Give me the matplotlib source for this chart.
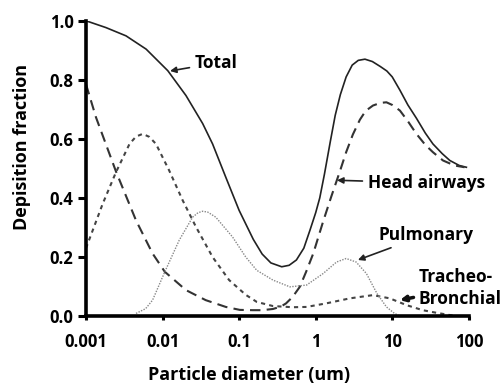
import matplotlib
matplotlib.use("Agg")
import matplotlib.pyplot as plt

plt.rcParams['font.family'] = ['Open Sans', 'DejaVu Sans']
plt.rcParams['font.weight'] = 'bold'

# values (diameter in um, deposition fraction)
total_x = [0.001, 0.00182, 0.00333, 0.0061, 0.0117, 0.0202, 0.0334, 0.045, 0.067, 0.1,
           0.153, 0.2, 0.26, 0.36, 0.45, 0.56, 0.7, 0.84, 1.0, 1.13, 1.3, 1.55, 1.8,
           2.1, 2.5, 3.0, 3.6, 4.4, 5.5, 7.0, 8.5, 10.0, 12.6, 16.0, 20.7, 27.0, 34.0,
           45.0, 56.5, 75.0, 93.0]
total_y = [1.0, 0.977, 0.949, 0.904, 0.831, 0.747, 0.652, 0.583, 0.47, 0.358,
           0.26, 0.21, 0.18, 0.167, 0.172, 0.19, 0.23, 0.29, 0.35, 0.4, 0.48, 0.59, 0.68,
           0.75, 0.81, 0.85, 0.866, 0.87, 0.862, 0.845, 0.83, 0.81, 0.765, 0.715, 0.67, 0.62, 0.583,
           0.55, 0.527, 0.51, 0.504]

head_x = [0.001, 0.00135, 0.00246, 0.0045, 0.0074, 0.0107, 0.0202, 0.0366, 0.067, 0.102,
          0.15, 0.2, 0.276, 0.35, 0.41, 0.5, 0.62, 0.75, 0.93, 1.25, 1.6, 2.07, 2.5, 3.06,
          3.78, 4.5, 5.6, 7.0, 8.4, 10.0, 12.6, 16.0, 20.7, 27.0, 34.0, 46.0, 65.0, 88.0]
head_y = [0.785, 0.673, 0.49, 0.324, 0.212, 0.15, 0.088, 0.054, 0.031, 0.021,
          0.02, 0.02, 0.024, 0.032, 0.043, 0.065, 0.099, 0.15, 0.212, 0.32, 0.405, 0.49, 0.555, 0.615,
          0.665, 0.695, 0.713, 0.722, 0.724, 0.715, 0.696, 0.66, 0.617, 0.58, 0.555, 0.527, 0.51, 0.504]

tb_x = [0.001, 0.00165, 0.00246, 0.0037, 0.0045, 0.0055, 0.0067, 0.0082, 0.0122, 0.0183,
        0.0273, 0.045, 0.074, 0.122, 0.17, 0.276, 0.5, 0.76, 1.37, 2.79, 5.6, 9.3,
        15.4, 25.0, 38.0, 55.0, 70.0]
tb_y = [0.23, 0.38, 0.487, 0.583, 0.608, 0.617, 0.607, 0.583, 0.493, 0.392,
        0.302, 0.2, 0.122, 0.072, 0.048, 0.034, 0.03, 0.031, 0.043, 0.06, 0.071, 0.06,
        0.037, 0.02, 0.011, 0.004, 0.0]

pul_x = [0.0045, 0.006, 0.0074, 0.0107, 0.0165, 0.0247, 0.029, 0.0334, 0.039, 0.0495,
         0.082, 0.122, 0.17, 0.276, 0.46, 0.76, 1.25, 1.87, 2.5, 3.38, 4.6, 6.3, 8.4,
         10.7, 12.0]
pul_y = [0.009, 0.025, 0.054, 0.15, 0.257, 0.335, 0.35, 0.355, 0.352, 0.335,
         0.268, 0.2, 0.155, 0.122, 0.099, 0.105, 0.144, 0.183, 0.195, 0.183, 0.144, 0.077, 0.031,
         0.009, 0.003]

xticks = [0.001, 0.01, 0.1, 1, 10, 100]
xtick_labels = ['0.001', '0.01', '0.1', '1', '10', '100']
yticks = [0.0, 0.2, 0.4, 0.6, 0.8, 1.0]

fig = plt.figure(figsize=(5.03, 3.85), dpi=100)
ax = fig.add_axes([0.171, 0.179, 0.761, 0.767])

ax.plot(total_x, total_y, color='#222222', lw=1.2, ls='-')
ax.plot(head_x, head_y, color='#333333', lw=1.5, ls=(0, (5, 3)))
ax.plot(tb_x, tb_y, color='#444444', lw=1.5, ls=(0, (2, 2)))
ax.plot(pul_x, pul_y, color='#888888', lw=1.0, ls=(0, (1, 1)))

ax.set_xscale('log')
ax.set_xlim(0.001, 100)
ax.set_ylim(0, 1.0)
ax.set_xticks(xticks)
ax.set_xticklabels(xtick_labels)
ax.minorticks_off()
ax.set_yticks(yticks)
ax.set_yticklabels(['%.1f' % v for v in yticks])

for s in ['top', 'right']:
    ax.spines[s].set_visible(False)
for s in ['left', 'bottom']:
    ax.spines[s].set_linewidth(2.6)
ax.tick_params(axis='y', direction='out', length=6, width=2.2, labelsize=12, pad=3)
ax.tick_params(axis='x', direction='out', length=3, width=2.2, labelsize=12, pad=9)

ax.set_xlabel('Particle diameter (um)', fontsize=13, fontweight='bold', va='center')
ax.set_ylabel('Depisition fraction', fontsize=13, fontweight='bold', va='center')
ax.xaxis.set_label_coords(0.425, -0.2)
ax.yaxis.set_label_coords(-0.167, 0.572)

arrow = dict(arrowstyle='-|>', color='#222222', lw=1.2, mutation_scale=9, shrinkA=2, shrinkB=0)
ax.annotate('Total', xy=(0.0125, 0.83), xytext=(195, 322), textcoords='figure pixels',
            ha='left', va='center', fontsize=12.5, fontweight='bold', arrowprops=arrow)
ax.annotate('Head airways', xy=(1.9, 0.46), xytext=(368, 202), textcoords='figure pixels',
            ha='left', va='center', fontsize=12.5, fontweight='bold', arrowprops=arrow)
ax.annotate('Pulmonary', xy=(3.56, 0.19), xytext=(378, 150), textcoords='figure pixels',
            ha='left', va='center', fontsize=12.5, fontweight='bold', arrowprops=arrow)
thick = dict(arrowstyle='-|>', color='#111111', lw=2.5, mutation_scale=8, shrinkA=2, shrinkB=0)
ax.annotate('Tracheo-\nBronchial', xy=(12.6, 0.054), xytext=(419, 97), textcoords='figure pixels',
            ha='left', va='center', fontsize=12.5, fontweight='bold', linespacing=1.25,
            arrowprops=thick)

fig.savefig('out.png', dpi=100)
